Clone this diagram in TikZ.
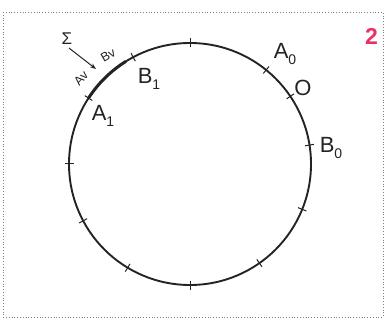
\documentclass[tikz,border=0pt]{standalone}
\usepackage{fontspec}
\setmainfont{Liberation Sans}
\usetikzlibrary{arrows.meta}
\definecolor{ink}{RGB}{35,35,35}
\definecolor{numred}{RGB}{230,50,100}
\newcommand\subdig[1]{\raisebox{-0.3em}{\fontsize{14}{14}\selectfont #1}}
\begin{document}
\begin{tikzpicture}[x=1pt,y=1pt,
  ring/.style={draw=ink, line width=1.9pt},
  lbl/.style={font=\fontsize{22}{24}\selectfont, text=ink, inner sep=0pt},
  smalllbl/.style={font=\fontsize{12.5}{13}\selectfont, text=ink, inner sep=0pt},
  frame/.style={draw=gray, dotted, line width=0.8pt},
  tickmark/.style={draw=ink, line width=1pt}]
\useasboundingbox (0,0) rectangle (387,321);
\draw[frame] (3,309) rectangle (383,4);
\coordinate (c) at (190,157);
\draw[ring] (c) circle[radius=121];
\foreach \a in {90,118,147,180,208,239,270,305,338,9,34,51}
  \draw[tickmark] ([shift={(\a:116.5)}]c) -- ([shift={(\a:125.5)}]c);
\draw[ink, line width=3pt] ([shift={(122:121)}]c) arc[start angle=122, end angle=147, radius=121];
\node[font=\fontsize{17}{18}\selectfont, text=ink, inner sep=0pt] (sig) at (67,282) {Σ};
\coordinate (tip) at (96,252);
\draw[ink, line width=1pt, -{Stealth[length=6pt,width=4.5pt]}] ([shift={(2pt,-3pt)}]sig.south) -- (tip);
\node[smalllbl, rotate=48] (av) at (81,243) {Av};
\node[smalllbl, rotate=30] (bv) at (108,266) {Bv};
\node[lbl] (a0) at (285,267) {A\subdig{0}};
\node[lbl] (o) at (303,233) {O};
\node[lbl] (b0) at (331,173) {B\subdig{0}};
\node[lbl] (b1) at (149,242) {B\subdig{1}};
\node[lbl] (a1) at (103,205) {A\subdig{1}};
\node[font=\bfseries\fontsize{23}{24}\selectfont, text=numred, inner sep=0pt] (num) at (371.5,284.5) {2};
\end{tikzpicture}
\end{document}
